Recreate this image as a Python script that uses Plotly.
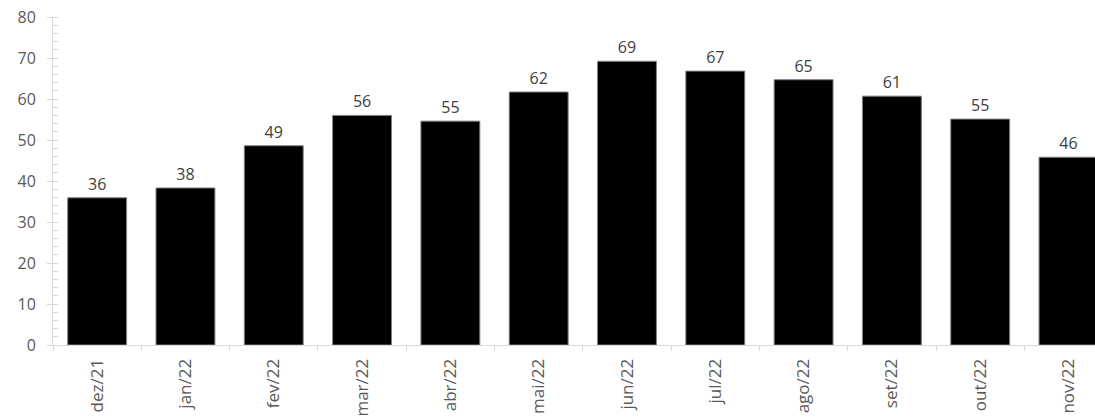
import plotly.graph_objects as go

months = ["dez/21", "jan/22", "fev/22", "mar/22", "abr/22", "mai/22",
          "jun/22", "jul/22", "ago/22", "set/22", "out/22", "nov/22"]
values = [35.9, 38.3, 48.6, 56.0, 54.6, 61.7, 69.2, 66.8, 64.7, 60.7, 55.1, 45.8]

FONT = "Open Sans, Lato, sans-serif"

fig = go.Figure(go.Bar(
    x=months, y=values,
    marker=dict(color="#000000", line=dict(color="#808080", width=1)),
    texttemplate="%{y:.0f}", textposition="outside",
    textfont=dict(family=FONT, size=16, color="#404040"),
    cliponaxis=False,
))

fig.update_layout(
    width=1095, height=417,
    margin=dict(l=53, r=0, t=17, b=72),
    paper_bgcolor="white", plot_bgcolor="white",
    bargap=0.333, showlegend=False,
    font=dict(family=FONT, size=15, color="#595959"),
)
fig.update_xaxes(
    type="category", range=[-0.5, 11.3], automargin=False,
    showline=True, linecolor="#d9d9d9", linewidth=1,
    ticks="outside", tickson="boundaries", ticklen=5, tickcolor="#d9d9d9",
    tickangle=-90, showgrid=False, ticklabelstandoff=6,
    ticklabeloverflow="allow",
    tickfont=dict(family=FONT, size=17, color="#595959"),
)
fig.update_yaxes(
    range=[0, 80], dtick=10, automargin=False,
    showline=True, linecolor="#d9d9d9", linewidth=1,
    ticks="outside", ticklen=5, tickcolor="#d9d9d9",
    minor=dict(ticks="inside", ticklen=5, dtick=2, tickcolor="#d9d9d9"),
    showgrid=False, zeroline=False, ticklabelstandoff=8,
    ticklabeloverflow="allow",
    tickfont=dict(family=FONT, size=16, color="#595959"),
)

fig.write_html("out.html", config={"displayModeBar": False},
               post_script="document.body.style.margin='0';")
